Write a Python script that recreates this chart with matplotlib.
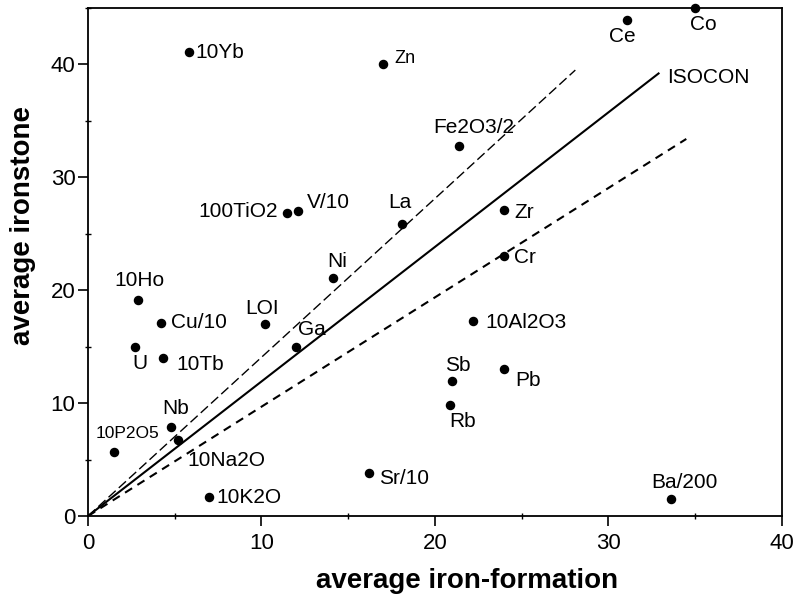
import matplotlib
matplotlib.use("Agg")
from matplotlib import pyplot as plt
from matplotlib.ticker import MultipleLocator

plt.rcParams['font.family'] = ['Liberation Sans', 'DejaVu Sans']

# element names and their averages (iron-formation, ironstone)
names = ['10Yb', 'Zn', '100TiO2', 'V/10', 'Ni', 'La', 'Fe2O3/2', 'Ce', 'Co',
         'Zr', 'Cr', '10Ho', 'Cu/10', 'U', '10Tb', 'LOI', 'Ga', 'Nb', '10Na2O',
         '10P2O5', '10K2O', 'Sr/10', '10Al2O3', 'Sb', 'Rb', 'Pb', 'Ba/200']
iron_formation = [5.8, 17.0, 11.5, 12.1, 14.1, 18.1, 21.4, 31.1, 35.0,
                  24.0, 24.0, 2.9, 4.2, 2.7, 4.3, 10.2, 12.0, 4.8, 5.2,
                  1.5, 7.0, 16.2, 22.2, 21.0, 20.9, 24.0, 33.6]
ironstone = [41.1, 40.0, 26.8, 27.0, 21.1, 25.9, 32.8, 43.9, 45.0,
             27.1, 23.0, 19.1, 17.1, 15.0, 14.0, 17.0, 15.0, 7.9, 6.7,
             5.7, 1.7, 3.8, 17.3, 12.0, 9.8, 13.0, 1.5]

# reference lines
isocon_x = [0, 32.9]
isocon_y = [0, 39.2]
upper_x = [0, 28.1]
upper_y = [0, 39.5]
lower_x = [0, 34.5]
lower_y = [0, 33.4]

# label placement: (dx, dy in pixels, ha, va, size)
lab = {
    '10Yb': (7, 0, 'left', 'center', 15),
    'Zn': (12, 6, 'left', 'center', 13),
    '100TiO2': (-10, 2, 'right', 'center', 15),
    'V/10': (9, 9, 'left', 'center', 15),
    'Ni': (5, 11, 'center', 'baseline', 15),
    'La': (-2, 16, 'center', 'baseline', 15),
    'Fe2O3/2': (15, 13, 'center', 'baseline', 15),
    'Ce': (-5, -7, 'center', 'top', 15),
    'Co': (8, -7, 'center', 'top', 15),
    'Zr': (10, -2, 'left', 'center', 15),
    'Cr': (10, -1, 'left', 'center', 15),
    '10Ho': (1, 14, 'center', 'baseline', 15),
    'Cu/10': (10, 0, 'left', 'center', 15),
    'U': (5, -7, 'center', 'top', 15),
    '10Tb': (14, -7, 'left', 'center', 15),
    'LOI': (-3, 10, 'center', 'baseline', 15),
    'Ga': (2, 12, 'left', 'baseline', 15),
    'Nb': (4, 13, 'center', 'baseline', 15),
    '10Na2O': (9, -20, 'left', 'center', 15),
    '10P2O5': (13, 14, 'center', 'baseline', 12.5),
    '10K2O': (7, -1, 'left', 'center', 15),
    'Sr/10': (10, -5, 'left', 'center', 15),
    '10Al2O3': (12, -2, 'left', 'center', 15),
    'Sb': (6, 10, 'center', 'baseline', 15),
    'Rb': (12, -7, 'center', 'top', 15),
    'Pb': (11, -11, 'left', 'center', 15),
    'Ba/200': (14, 11, 'center', 'baseline', 15),
}

fig = plt.figure(figsize=(7.96, 5.96), dpi=100)
ax = fig.add_axes([0.1106, 0.1342, 0.8714, 0.8524])

ax.plot(isocon_x, isocon_y, color='black', lw=1.5)
ax.plot(upper_x, upper_y, color='black', lw=1.0, dashes=(7, 3))
ax.plot(lower_x, lower_y, color='black', lw=1.5, dashes=(4, 3))
ax.annotate('ISOCON', (isocon_x[1], isocon_y[1]), xytext=(9, -4),
            textcoords='offset pixels', fontsize=15, ha='left', va='center')

ax.scatter(iron_formation, ironstone, s=34, color='black', zorder=3, clip_on=False)
for n, x, y in zip(names, iron_formation, ironstone):
    dx, dy, ha, va, fs = lab[n]
    ax.annotate(n, (x, y), xytext=(dx, dy), textcoords='offset pixels',
                ha=ha, va=va, fontsize=fs)

ax.set_xlim(0, 40)
ax.set_ylim(0, 45)
ax.xaxis.set_major_locator(MultipleLocator(10))
ax.yaxis.set_major_locator(MultipleLocator(10))
ax.xaxis.set_minor_locator(MultipleLocator(5))
ax.yaxis.set_minor_locator(MultipleLocator(5))
ax.tick_params(which='major', direction='out', length=7, width=1.2, labelsize=16)
ax.tick_params(axis='x', which='major', pad=5.5)
ax.tick_params(axis='y', which='major', pad=2)
ax.tick_params(which='minor', direction='inout', length=5, width=1)
for s in ax.spines.values():
    s.set_linewidth(1.3)

ax.set_xlabel('average iron-formation', fontsize=20, fontweight='bold', va='baseline')
ax.set_ylabel('average ironstone', fontsize=20, fontweight='bold')
ax.xaxis.set_label_coords(0.546, -0.142)
ax.yaxis.set_label_coords(-0.075, 0.571)

fig.savefig('out.png', dpi=100)
